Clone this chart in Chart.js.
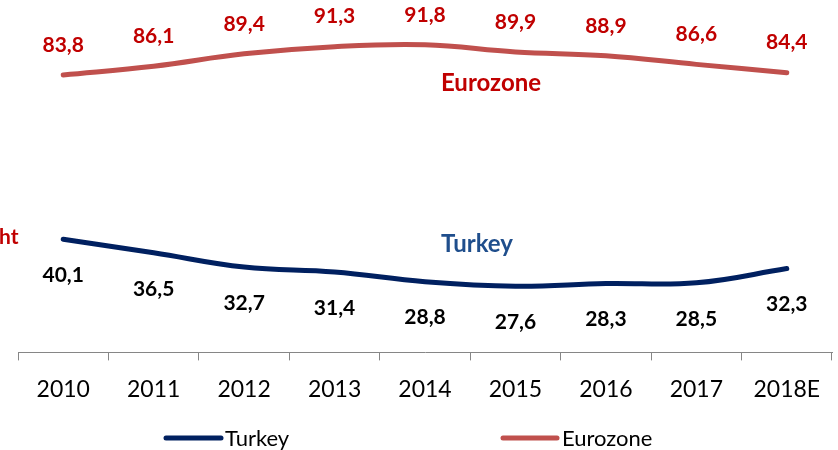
<!DOCTYPE html>
<html><head><meta charset="utf-8">
<script src="https://cdn.jsdelivr.net/npm/chart.js@4/dist/chart.umd.min.js"></script>
<style>html,body{margin:0;padding:0;background:#fff}#wrap{width:838px;height:450px;position:relative}</style>
</head><body><div id="wrap"><canvas id="c" width="838" height="450"></canvas></div>
<script>
const categories = ['2010','2011','2012','2013','2014','2015','2016','2017','2018E'];
const turkey = [40.1, 36.5, 32.7, 31.4, 28.8, 27.6, 28.3, 28.5, 32.3];
const eurozone = [83.8, 86.1, 89.4, 91.3, 91.8, 89.9, 88.9, 86.6, 84.4];
const seriesNames = ['Turkey', 'Eurozone'];

const FONT = 'Lato, "Open Sans", sans-serif';
const fmt = v => v.toFixed(1).replace('.', ',');

const overlay = {
  id: 'overlay',
  afterDatasetsDraw(chart) {
    const ctx = chart.ctx;
    ctx.save();
    ctx.textAlign = 'center';
    ctx.textBaseline = 'middle';
    ctx.font = 'bold 21px ' + FONT;
    chart.getDatasetMeta(0).data.forEach((p, i) => {
      ctx.fillStyle = '#000000';
      ctx.fillText(fmt(turkey[i]), p.x, p.y + 36);
    });
    chart.getDatasetMeta(1).data.forEach((p, i) => {
      ctx.fillStyle = '#C00000';
      ctx.fillText(fmt(eurozone[i]), p.x, p.y - 30);
    });
    ctx.font = 'bold 24px ' + FONT;
    ctx.fillStyle = '#C00000';
    ctx.fillText('Eurozone', 491, 83);
    ctx.fillStyle = '#1F4E8C';
    ctx.fillText('Turkey', 477, 244);
    ctx.textAlign = 'left';
    ctx.fillStyle = '#C00000';
    ctx.font = 'bold 21px ' + FONT;
    ctx.fillText('ht', -1, 237);
    const items = [
      {x1: 166, x2: 221, tx: 225, color: '#002060', label: seriesNames[0]},
      {x1: 503, x2: 557, tx: 562, color: '#C0504D', label: seriesNames[1]}
    ];
    ctx.font = '22px ' + FONT;
    ctx.lineCap = 'round';
    items.forEach(it => {
      ctx.strokeStyle = it.color;
      ctx.lineWidth = 5;
      ctx.beginPath();
      ctx.moveTo(it.x1, 438);
      ctx.lineTo(it.x2, 438);
      ctx.stroke();
      ctx.fillStyle = '#000000';
      ctx.fillText(it.label, it.tx, 439);
    });
    ctx.restore();
  }
};

new Chart(document.getElementById('c'), {
  type: 'line',
  data: {
    labels: categories,
    datasets: [
      {label: seriesNames[0], data: turkey, borderColor: '#002060', borderWidth: 5, pointRadius: 0, tension: 0.4, fill: false, borderCapStyle: 'round'},
      {label: seriesNames[1], data: eurozone, borderColor: '#C0504D', borderWidth: 5, pointRadius: 0, tension: 0.4, fill: false, borderCapStyle: 'round'}
    ]
  },
  options: {
    responsive: false,
    animation: false,
    layout: {padding: {left: 18, right: 6, top: 14, bottom: 32}},
    plugins: {legend: {display: false}, tooltip: {enabled: false}},
    scales: {
      x: {
        offset: true,
        grid: {offset: true, drawOnChartArea: false, drawTicks: true, tickLength: 8, color: '#868686', lineWidth: 1},
        border: {display: true, color: '#868686', width: 1},
        ticks: {color: '#000000', font: {family: FONT, size: 23}, padding: 15, maxRotation: 0, autoSkip: false}
      },
      y: {display: false, min: 10, max: 100}
    }
  },
  plugins: [overlay]
});
</script>
</body></html>
